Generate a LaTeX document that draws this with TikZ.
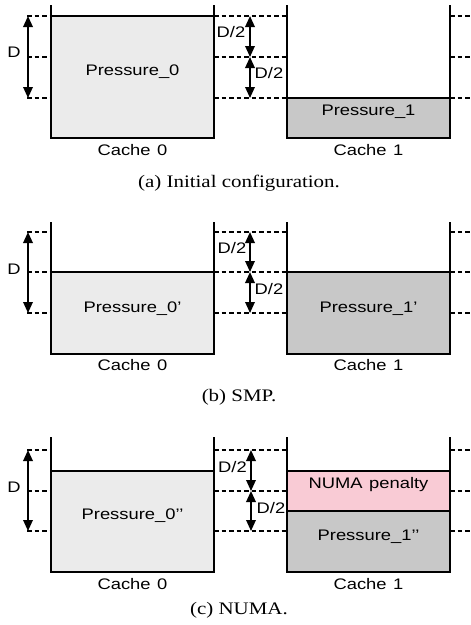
\documentclass[tikz,border=0pt]{standalone}
\usepackage{fontspec}
\setmainfont{Liberation Serif}
\newfontfamily\labfam[FakeStretch=1.2,WordSpace=1.3]{Liberation Sans}
\newfontfamily\capfam[FakeStretch=1.19]{Liberation Serif}
\usetikzlibrary{arrows.meta}
\definecolor{lightfill}{RGB}{235,235,235}
\definecolor{darkfill}{RGB}{200,200,200}
\definecolor{pinkfill}{RGB}{249,203,213}
\tikzset{
  wall/.style={line width=2pt},
  box/.style={draw, line width=2pt},
  lvl/.style={line width=1.3pt, dash pattern=on 4.5pt off 3pt},
  dim/.style={line width=1.8pt, {Triangle[length=11pt,width=9.5pt]}-{Triangle[length=11pt,width=9.5pt]}},
  lab/.style={font=\labfam\fontsize{15.3}{18}\selectfont, inner sep=0pt, anchor=base},
  captext/.style={font=\capfam\fontsize{17.6}{20}\selectfont, inner sep=0pt, anchor=base}
}
\begin{document}
\begin{tikzpicture}[x=1pt,y=-1pt]
\useasboundingbox (0,0) rectangle (471,625);
% ================= (a) =================
\draw[box, fill=lightfill] (51,16) rectangle (214,138);
\draw[box, fill=darkfill] (287,98) rectangle (450,138);
\draw[wall] (51,5) -- (51,138) -- (214,138) -- (214,5);
\draw[wall] (287,5) -- (287,138) -- (450,138) -- (450,5);
\foreach \yy in {16,57,98} {
  \draw[lvl] (27,\yy) -- (51,\yy);
  \draw[lvl] (214,\yy) -- (287,\yy);
  \draw[lvl] (450,\yy) -- (471,\yy);
}
\coordinate (aD1) at (28,16);
\coordinate (aD3) at (28,98);
\coordinate (aH1) at (250,16);
\coordinate (aH2) at (250,57);
\coordinate (aH3) at (250,98);
\draw[dim] (aD1) -- (aD3);
\draw[dim] (aH1) -- (aH2);
\draw[dim] (aH2) -- (aH3);
\node[lab] (aD) at (14,57) {D};
\node[lab] (aH1l) at (231,37) {D/2};
\node[lab] (aH2l) at (269,78) {D/2};
\node[lab] (aP0) at (132.5,75) {Pressure\_0};
\node[lab] (aP1) at (368.5,115) {Pressure\_1};
\node[lab] (aC0) at (132.5,155) {Cache 0};
\node[lab] (aC1) at (368.5,155) {Cache 1};
\node[captext] (acap) at (239,187) {(a) Initial configuration.};
% ================= (b) =================
\draw[box, fill=lightfill] (51,272) rectangle (214,354);
\draw[box, fill=darkfill] (287,272) rectangle (450,354);
\draw[wall] (51,222) -- (51,354) -- (214,354) -- (214,222);
\draw[wall] (287,222) -- (287,354) -- (450,354) -- (450,222);
\foreach \yy in {232,272,313} {
  \draw[lvl] (27,\yy) -- (51,\yy);
  \draw[lvl] (214,\yy) -- (287,\yy);
  \draw[lvl] (450,\yy) -- (471,\yy);
}
\coordinate (bD1) at (28,232);
\coordinate (bD3) at (28,313);
\coordinate (bH1) at (250,232);
\coordinate (bH2) at (250,272);
\coordinate (bH3) at (250,313);
\draw[dim] (bD1) -- (bD3);
\draw[dim] (bH1) -- (bH2);
\draw[dim] (bH2) -- (bH3);
\node[lab] (bD) at (14,274) {D};
\node[lab] (bH1l) at (232,253) {D/2};
\node[lab] (bH2l) at (269,294) {D/2};
\node[lab] (bP0) at (132.5,312) {Pressure\_0’};
\node[lab] (bP1) at (368.5,312) {Pressure\_1’};
\node[lab] (bC0) at (132.5,370) {Cache 0};
\node[lab] (bC1) at (368.5,370) {Cache 1};
\node[captext] (bcap) at (239,401) {(b) SMP.};
% ================= (c) =================
\draw[box, fill=lightfill] (51,471) rectangle (214,572);
\draw[box, fill=pinkfill] (287,471) rectangle (450,511);
\draw[box, fill=darkfill] (287,511) rectangle (450,572);
\draw[wall] (51,437) -- (51,572) -- (214,572) -- (214,437);
\draw[wall] (287,437) -- (287,572) -- (450,572) -- (450,437);
\foreach \yy in {450,491,531} {
  \draw[lvl] (27,\yy) -- (51,\yy);
  \draw[lvl] (214,\yy) -- (287,\yy);
  \draw[lvl] (450,\yy) -- (471,\yy);
}
\coordinate (cD1) at (28,450);
\coordinate (cD3) at (28,531);
\coordinate (cH1) at (251,450);
\coordinate (cH2) at (251,491);
\coordinate (cH3) at (251,531);
\draw[dim] (cD1) -- (cD3);
\draw[dim] (cH1) -- (cH2);
\draw[dim] (cH2) -- (cH3);
\node[lab] (cD) at (14,492) {D};
\node[lab] (cH1l) at (232.5,472) {D/2};
\node[lab] (cH2l) at (271,513) {D/2};
\node[lab] (cP0) at (132.5,519) {Pressure\_0’{}’};
\node[lab] (cNP) at (368.5,488) {NUMA penalty};
\node[lab] (cP1) at (368.5,540) {Pressure\_1’{}’};
\node[lab] (cC0) at (132.5,589) {Cache 0};
\node[lab] (cC1) at (368.5,589) {Cache 1};
\node[captext] (ccap) at (239,614) {(c) NUMA.};
\end{tikzpicture}
\end{document}
